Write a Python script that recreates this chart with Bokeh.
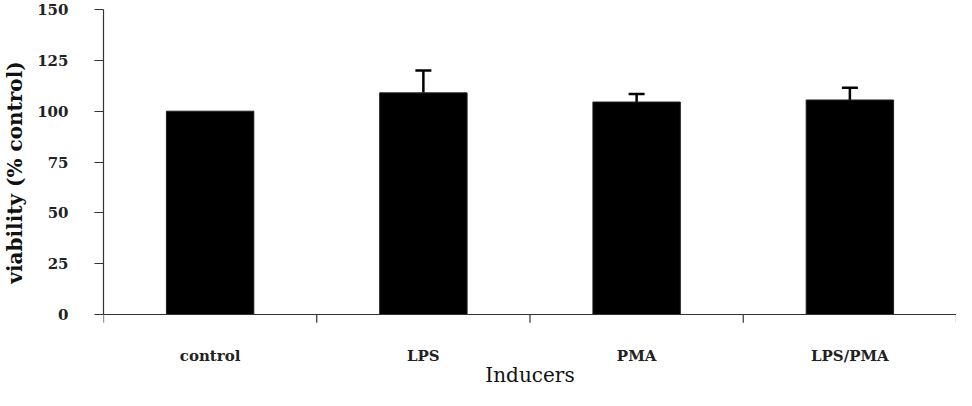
from bokeh.plotting import figure
from bokeh.models import (Range1d, LinearAxis, FixedTicker, Whisker, TeeHead,
                          ColumnDataSource, Span)
from bokeh.embed import file_html
from bokeh.resources import INLINE

categories = ["control", "LPS", "PMA", "LPS/PMA"]
viability = [100, 109, 104.5, 105.5]
errors = [0, 11, 4, 6]
y_ticks = [0, 25, 50, 75, 100, 125, 150]

FONT = "DejaVu Serif"
AXIS_COLOR = "#333333"

n = len(categories)
centers = [i + 0.5 for i in range(n)]
src = ColumnDataSource(dict(x=centers, cat=categories, val=viability))

# whiskers only where an error was drawn
wx = [c for c, e in zip(centers, errors) if e > 0]
wlo = [v for v, e in zip(viability, errors) if e > 0]
whi = [v + e for v, e in zip(viability, errors) if e > 0]
wsrc = ColumnDataSource(dict(x=wx, lower=wlo, upper=whi))

p = figure(width=956, height=390,
           x_range=Range1d(0, n), y_range=Range1d(-14.75, 154.43),
           x_axis_location=None, y_axis_location=None,
           output_backend="svg", toolbar_location=None,
           min_border_left=99, min_border_right=0,
           min_border_top=0, min_border_bottom=46)
p.outline_line_color = None
p.background_fill_color = "white"
p.border_fill_color = "white"
p.xgrid.grid_line_color = None
p.ygrid.grid_line_color = None

p.vbar(x="x", top="val", bottom=0, width=0.41, source=src,
       fill_color="black", line_color="#222222", line_width=1)

whisk = Whisker(base="x", lower="lower", upper="upper", source=wsrc,
                line_color="black", line_width=2.5,
                lower_head=None,
                upper_head=TeeHead(size=16, line_width=2.5, line_color="black"))
p.add_layout(whisk)

# x axis line at y = 0 and boundary tick marks between categories
p.add_layout(Span(location=0, dimension="width", line_color=AXIS_COLOR, line_width=1.2))
bounds = list(range(n + 1))
p.segment(x0=bounds, y0=[0] * len(bounds), x1=bounds, y1=[-4] * len(bounds),
          line_color=AXIS_COLOR, line_width=1.2)

# category labels at centres, axis title below
cat_axis = LinearAxis(ticker=FixedTicker(ticks=centers),
                      major_label_overrides={c: name for c, name in zip(centers, categories)},
                      axis_line_color=None, major_tick_line_color=None,
                      minor_tick_line_color=None,
                      major_tick_in=0, major_tick_out=0,
                      major_label_standoff=2,
                      major_label_text_font=FONT,
                      major_label_text_font_style="bold",
                      major_label_text_font_size="15px",
                      major_label_text_color="#222222",
                      axis_label="Inducers",
                      axis_label_text_font=FONT,
                      axis_label_text_font_style="normal",
                      axis_label_text_font_size="20px",
                      axis_label_text_color="#111111",
                      axis_label_standoff=-5)
p.add_layout(cat_axis, "below")

y_axis = LinearAxis(ticker=FixedTicker(ticks=y_ticks), bounds=(0, 150),
                    major_tick_in=0, major_tick_out=9,
                    minor_tick_line_color=None,
                    axis_line_color=AXIS_COLOR, major_tick_line_color=AXIS_COLOR,
                    axis_line_width=1.2, major_tick_line_width=1.2,
                    major_label_standoff=26,
                    major_label_text_font=FONT,
                    major_label_text_font_style="bold",
                    major_label_text_font_size="15px",
                    major_label_text_color="#222222",
                    axis_label="viability (% control)",
                    axis_label_text_font=FONT,
                    axis_label_text_font_style="bold",
                    axis_label_text_font_size="20px",
                    axis_label_text_color="#111111",
                    axis_label_standoff=7)
p.add_layout(y_axis, "left")

open("out.html", "w").write(file_html(p, INLINE))
